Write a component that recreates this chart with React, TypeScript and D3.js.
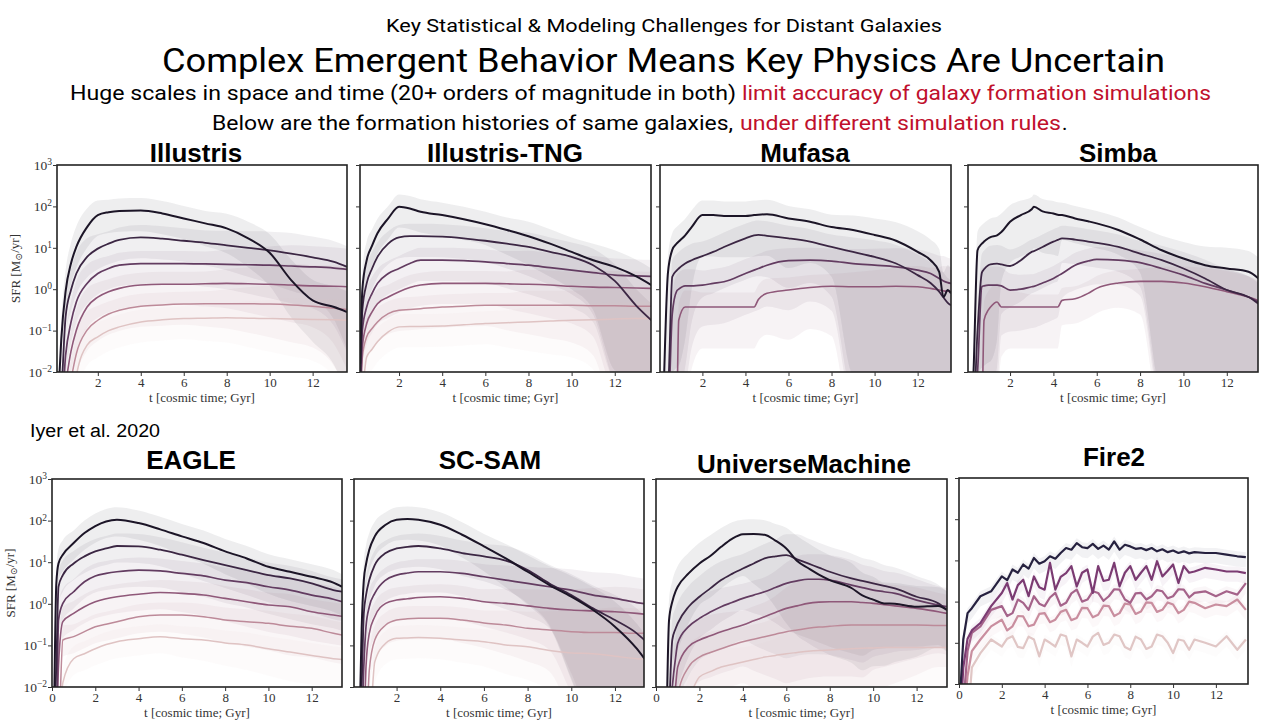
import React, { useRef, useEffect } from 'react';
import * as d3 from 'd3';

// All SFR values are log10(SFR / [Msun/yr]).
// -3 means "still below the bottom of the axis" (line has not started yet).

const illustrisTime = [0.2, 0.3, 0.5, 0.75, 1, 1.5, 2, 2.5, 3, 4, 5, 6, 7, 8, 9, 10, 11, 12, 13, 13.6];
const illustrisLogSfr = [
  [-2.2, -1.2, -0.05, 0.62, 1.02, 1.5, 1.79, 1.86, 1.89, 1.9, 1.83, 1.71, 1.59, 1.47, 1.23, 0.88, 0.22, -0.27, -0.43, -0.55],
  [-3, -2.5, -0.67, -0.02, 0.38, 0.78, 0.98, 1.1, 1.19, 1.25, 1.22, 1.17, 1.12, 1.06, 1.0, 0.94, 0.86, 0.77, 0.66, 0.54],
  [-3, -3, -1.6, -0.8, -0.31, 0.14, 0.38, 0.5, 0.58, 0.62, 0.62, 0.62, 0.61, 0.6, 0.59, 0.58, 0.56, 0.54, 0.51, 0.48],
  [-3, -3, -2.3, -1.5, -0.99, -0.43, -0.19, -0.06, 0.02, 0.1, 0.12, 0.12, 0.13, 0.14, 0.13, 0.12, 0.1, 0.08, 0.07, 0.06],
  [-3, -3, -3, -2.2, -1.56, -0.99, -0.75, -0.6, -0.51, -0.41, -0.38, -0.36, -0.35, -0.35, -0.35, -0.36, -0.38, -0.41, -0.46, -0.49],
  [-3, -3, -3, -3, -2.1, -1.35, -1.15, -1.0, -0.91, -0.79, -0.74, -0.71, -0.7, -0.69, -0.7, -0.71, -0.72, -0.73, -0.74, -0.75],
];
const illustrisUp = [0.5, 0.5, 0.5, 0.5, 0.5, 0.45, 0.35, 0.3, 0.3, 0.3, 0.3, 0.3, 0.3, 0.35, 0.4, 0.45, 0.5, 0.5, 0.5, 0.5];
const illustrisDown = [0.5, 0.5, 0.5, 0.5, 0.5, 0.5, 0.5, 0.5, 0.5, 0.5, 0.5, 0.5, 0.55, 0.6, 0.7, 0.8, 0.9, 1.0, 1.4, 2.0];

const tngTime = [0.2, 0.3, 0.5, 0.75, 1, 1.5, 2, 2.5, 3, 4, 5, 6, 7, 8, 9, 10, 11, 12, 13, 13.7];
const tngLogSfr = [
  [-1.8, 0.0, 0.7, 1.05, 1.35, 1.71, 1.99, 1.95, 1.87, 1.79, 1.69, 1.57, 1.43, 1.28, 1.1, 0.9, 0.7, 0.54, 0.31, 0.1],
  [-2.5, -0.5, 0.14, 0.5, 0.78, 1.1, 1.25, 1.28, 1.28, 1.27, 1.23, 1.17, 1.1, 1.02, 0.9, 0.78, 0.58, 0.2, -0.4, -0.75],
  [-3, -0.99, -0.43, -0.1, 0.14, 0.38, 0.5, 0.62, 0.7, 0.7, 0.69, 0.66, 0.62, 0.58, 0.52, 0.46, 0.4, 0.34, 0.32, 0.31],
  [-3, -1.4, -0.83, -0.55, -0.35, -0.19, -0.06, 0.04, 0.1, 0.14, 0.14, 0.14, 0.13, 0.12, 0.1, 0.07, 0.05, 0.04, 0.03, 0.02],
  [-3, -1.64, -1.15, -0.95, -0.79, -0.59, -0.51, -0.49, -0.47, -0.43, -0.41, -0.39, -0.39, -0.39, -0.39, -0.39, -0.4, -0.4, -0.41, -0.41],
  [-3, -2.5, -1.64, -1.45, -1.27, -1.03, -0.91, -0.9, -0.9, -0.89, -0.86, -0.83, -0.81, -0.79, -0.77, -0.75, -0.74, -0.72, -0.71, -0.71],
];
const tngUp = [0.5, 0.5, 0.45, 0.4, 0.35, 0.3, 0.3, 0.3, 0.3, 0.3, 0.3, 0.3, 0.3, 0.35, 0.35, 0.35, 0.4, 0.4, 0.4, 0.4];
const tngDown = [0.5, 0.5, 0.5, 0.5, 0.5, 0.5, 0.5, 0.5, 0.5, 0.5, 0.5, 0.5, 0.6, 0.7, 0.8, 0.9, 1.2, 2.5, 2.5, 2.5];

const mufasaTime = [0.2, 0.4, 0.6, 0.8, 0.9, 1.2, 1.5, 2, 2.5, 3, 4, 4.4, 4.6, 5, 6, 7, 8, 9, 10, 11, 12, 12.6, 13, 13.2, 13.4, 13.55];
const mufasaLogSfr = [
  [-2.5, 0.4, 0.95, 1.1, 1.15, 1.3, 1.5, 1.79, 1.79, 1.77, 1.77, 1.79, 1.8, 1.81, 1.71, 1.63, 1.5, 1.43, 1.31, 1.17, 0.9, 0.7, 0.42, -0.19, -0.02, -0.1],
  [-3, -2.5, 0.3, 0.45, 0.5, 0.62, 0.7, 0.8, 0.9, 1.02, 1.23, 1.3, 1.31, 1.29, 1.23, 1.15, 1.02, 0.9, 0.78, 0.62, 0.34, 0.15, -0.06, -0.2, -0.33, -0.39],
  [-3, -3, -0.6, -0.05, 0.0, 0.08, 0.08, 0.1, 0.14, 0.18, 0.38, 0.46, 0.5, 0.58, 0.69, 0.7, 0.68, 0.62, 0.58, 0.54, 0.46, 0.38, 0.26, 0.2, 0.16, 0.14],
  [-3, -3, -3, -3, -0.75, -0.43, -0.43, -0.43, -0.43, -0.43, -0.43, -0.43, -0.25, -0.1, -0.02, 0.04, 0.07, 0.06, 0.06, 0.07, 0.06, 0.02, -0.02, -0.04, -0.05, -0.06],
];
const mufasaUp = [0.4, 0.4, 0.4, 0.4, 0.4, 0.4, 0.4, 0.35, 0.35, 0.35, 0.35, 0.35, 0.35, 0.35, 0.3, 0.3, 0.3, 0.35, 0.4, 0.45, 0.5, 0.5, 0.55, 0.6, 0.6, 0.6];
const mufasaDown = [3, 3, 3, 3, 3, 2.5, 1.5, 1.0, 1.0, 1.0, 1.0, 1.0, 1.0, 1.0, 1.2, 1.0, 1.2, 3.5, 3.5, 3.5, 3.5, 3.5, 3.5, 3.5, 3.5, 3.5];

const simbaTime = [0.2, 0.3, 0.5, 0.7, 0.8, 1, 1.1, 1.4, 1.6, 2, 2.5, 3, 3.1, 3.5, 4, 4.2, 4.4, 5, 5.6, 6, 7, 8, 9, 10, 11, 12, 13, 13.46];
const simbaLogSfr = [
  [-3, -2.2, 0.94, 1.1, 1.15, 1.23, 1.26, 1.3, 1.38, 1.63, 1.79, 1.93, 1.99, 1.88, 1.83, 1.8, 1.79, 1.71, 1.64, 1.59, 1.43, 1.2, 0.94, 0.74, 0.58, 0.5, 0.42, 0.26],
  [-3, -3, -1.0, 0.4, 0.48, 0.58, 0.6, 0.62, 0.6, 0.56, 0.7, 0.9, 0.92, 1.02, 1.15, 1.19, 1.23, 1.2, 1.15, 1.12, 1.02, 0.86, 0.7, 0.5, 0.26, -0.02, -0.19, -0.35],
  [-3, -3, -2, 0.06, 0.08, 0.1, 0.1, 0.1, 0.08, -0.02, 0.0, 0.06, 0.07, 0.15, 0.26, 0.32, 0.38, 0.58, 0.68, 0.72, 0.7, 0.64, 0.5, 0.34, 0.14, -0.02, -0.19, -0.31],
  [-3, -3, -3, -3, -0.75, -0.5, -0.43, -0.31, -0.43, -0.43, -0.43, -0.43, -0.43, -0.43, -0.43, -0.43, -0.27, -0.23, -0.1, 0.02, 0.15, 0.19, 0.19, 0.15, 0.06, -0.06, -0.19, -0.27],
];
const simbaUp = [0.45, 0.45, 0.45, 0.45, 0.45, 0.45, 0.45, 0.45, 0.45, 0.4, 0.35, 0.3, 0.3, 0.3, 0.3, 0.3, 0.3, 0.3, 0.3, 0.3, 0.3, 0.3, 0.35, 0.4, 0.45, 0.5, 0.5, 0.5];
const simbaDown = [3, 3, 3, 3, 3, 3, 3, 2.5, 1.2, 1.0, 1.0, 1.0, 1.0, 1.0, 1.0, 1.0, 0.6, 0.6, 0.6, 0.6, 0.6, 0.8, 3.5, 3.5, 3.5, 3.5, 3.5, 3.5];

const eagleTime = [0.1, 0.2, 0.3, 0.5, 1, 1.5, 2, 2.5, 3, 4, 5, 6, 7, 8, 9, 10, 11, 12, 13, 13.4];
const eagleLogSfr = [
  [-2.5, 0.49, 0.97, 1.18, 1.46, 1.7, 1.87, 1.98, 2.02, 1.94, 1.79, 1.62, 1.46, 1.26, 1.09, 0.89, 0.77, 0.65, 0.51, 0.41],
  [-3, -1.5, 0.41, 0.69, 0.97, 1.14, 1.26, 1.33, 1.39, 1.38, 1.3, 1.18, 1.05, 0.93, 0.81, 0.69, 0.61, 0.49, 0.33, 0.29],
  [-3, -3, -0.39, 0.01, 0.29, 0.53, 0.67, 0.73, 0.77, 0.81, 0.79, 0.73, 0.67, 0.57, 0.51, 0.41, 0.33, 0.21, 0.11, 0.05],
  [-3, -3, -1.5, -0.43, -0.23, -0.07, 0.05, 0.12, 0.17, 0.23, 0.27, 0.25, 0.21, 0.13, 0.05, -0.03, -0.07, -0.19, -0.27, -0.3],
  [-3, -3, -3, -0.87, -0.79, -0.67, -0.55, -0.49, -0.43, -0.31, -0.27, -0.27, -0.31, -0.39, -0.43, -0.47, -0.54, -0.59, -0.71, -0.75],
  [-3, -3, -3, -1.9, -1.32, -1.2, -1.08, -0.98, -0.91, -0.84, -0.79, -0.84, -0.87, -0.94, -0.99, -1.08, -1.16, -1.24, -1.32, -1.34],
];
const eagleUp = [0.35, 0.35, 0.35, 0.35, 0.3, 0.3, 0.3, 0.3, 0.3, 0.3, 0.3, 0.3, 0.3, 0.3, 0.3, 0.3, 0.3, 0.3, 0.3, 0.3];
const eagleDown = [0.4, 0.4, 0.4, 0.4, 0.4, 0.4, 0.4, 0.4, 0.4, 0.4, 0.4, 0.45, 0.5, 0.55, 0.6, 0.65, 0.7, 0.7, 0.7, 0.7];

const scsamTime = [0.3, 0.4, 0.5, 0.6, 0.75, 1, 1.5, 2, 2.5, 3, 4, 5, 6, 7, 8, 9, 10, 11, 12, 13, 13.35];
const scsamLogSfr = [
  [-3, -0.6, 0.57, 0.95, 1.3, 1.62, 1.9, 2.02, 2.04, 2.02, 1.9, 1.66, 1.38, 1.09, 0.77, 0.45, 0.17, -0.15, -0.55, -1.08, -1.32],
  [-3, -2, -0.23, 0.2, 0.57, 0.93, 1.22, 1.33, 1.37, 1.39, 1.33, 1.22, 1.14, 1.04, 0.81, 0.49, 0.21, -0.11, -0.39, -0.71, -0.87],
  [-3, -3, -1.5, -0.55, -0.07, 0.25, 0.57, 0.69, 0.74, 0.77, 0.77, 0.73, 0.65, 0.57, 0.49, 0.41, 0.33, 0.21, 0.13, 0.03, 0.0],
  [-3, -3, -3, -1.5, -0.71, -0.31, 0.01, 0.09, 0.12, 0.15, 0.17, 0.13, 0.05, 0.01, -0.05, -0.11, -0.15, -0.17, -0.19, -0.23, -0.25],
  [-3, -3, -3, -3, -1.6, -0.87, -0.51, -0.39, -0.36, -0.35, -0.35, -0.39, -0.46, -0.51, -0.59, -0.63, -0.67, -0.69, -0.69, -0.71, -0.71],
  [-3, -3, -3, -3, -3, -1.4, -0.95, -0.83, -0.82, -0.81, -0.83, -0.87, -0.91, -0.99, -1.03, -1.12, -1.18, -1.2, -1.26, -1.32, -1.33],
];
const scsamUp = [0.45, 0.45, 0.45, 0.45, 0.4, 0.35, 0.3, 0.3, 0.3, 0.3, 0.3, 0.3, 0.3, 0.35, 0.4, 0.45, 0.5, 0.55, 0.6, 0.6, 0.6];
const scsamDown = [0.5, 0.5, 0.5, 0.5, 0.5, 0.5, 0.5, 0.5, 0.5, 0.5, 0.5, 0.55, 0.6, 0.7, 0.8, 1.0, 2.0, 3.0, 3.0, 3.0, 3.0];

const umTime = [0.5, 0.6, 0.75, 0.9, 1, 1.5, 2, 2.5, 3, 3.5, 4, 4.5, 5, 5.5, 6, 6.5, 7, 7.5, 8, 9, 9.5, 10, 10.5, 11, 12, 13, 13.4];
const umLogSfr = [
  [-2.5, -0.4, 0.05, 0.3, 0.41, 0.73, 0.97, 1.15, 1.37, 1.56, 1.67, 1.68, 1.66, 1.52, 1.33, 1.03, 0.86, 0.7, 0.57, 0.38, 0.2, 0.1, 0.01, 0.0, -0.07, -0.05, -0.15],
  [-3, -2.5, -0.87, -0.6, -0.47, -0.07, 0.17, 0.37, 0.57, 0.72, 0.85, 0.97, 1.09, 1.14, 1.17, 1.07, 0.97, 0.87, 0.77, 0.61, 0.55, 0.49, 0.43, 0.37, 0.17, 0.01, -0.15],
  [-3, -3, -2, -1.3, -0.95, -0.55, -0.35, -0.2, -0.07, 0.03, 0.13, 0.21, 0.29, 0.39, 0.49, 0.55, 0.59, 0.59, 0.57, 0.45, 0.39, 0.33, 0.29, 0.25, 0.09, -0.03, -0.07],
  [-3, -3, -3, -2, -1.52, -1.03, -0.87, -0.77, -0.67, -0.59, -0.51, -0.41, -0.31, -0.21, -0.11, -0.05, 0.01, 0.04, 0.05, 0.05, 0.03, 0.01, -0.02, -0.05, -0.11, -0.19, -0.23],
  [-3, -3, -3, -3, -2.2, -1.52, -1.28, -1.17, -1.08, -0.99, -0.91, -0.85, -0.79, -0.73, -0.67, -0.63, -0.59, -0.56, -0.54, -0.51, -0.51, -0.51, -0.51, -0.51, -0.51, -0.52, -0.52],
  [-3, -3, -3, -3, -3, -2.3, -1.76, -1.63, -1.52, -1.46, -1.4, -1.34, -1.28, -1.24, -1.2, -1.17, -1.14, -1.12, -1.11, -1.08, -1.07, -1.06, -1.05, -1.05, -1.05, -1.05, -1.05],
];
const umUp = [0.5, 0.5, 0.5, 0.5, 0.5, 0.5, 0.5, 0.5, 0.45, 0.4, 0.35, 0.35, 0.35, 0.4, 0.5, 0.6, 0.6, 0.6, 0.6, 0.6, 0.55, 0.55, 0.5, 0.5, 0.5, 0.45, 0.45];
const umDown = [1.5, 1.5, 1.5, 1.5, 1.5, 1.2, 1.0, 1.0, 1.0, 1.0, 1.0, 1.2, 1.4, 1.6, 1.8, 1.8, 1.8, 1.8, 1.8, 1.8, 1.8, 1.6, 1.5, 1.4, 1.2, 1.0, 1.0];

const fire2Time = [0.05, 0.2, 0.4, 0.6, 1, 1.5, 2, 2.25, 2.5, 2.75, 3, 3.25, 3.5, 3.75, 4, 4.25, 4.5, 4.75, 5, 5.25, 5.5, 5.75, 6, 6.25, 6.5, 6.75, 7, 7.25, 7.5, 7.75, 8, 8.25, 8.5, 8.75, 9, 9.25, 9.5, 9.75, 10, 10.25, 10.5, 10.75, 11, 11.5, 12, 12.5, 13, 13.4];
const fire2LogSfr = [
  [-2.3, -0.92, -0.28, -0.16, 0.13, 0.25, 0.61, 0.52, 0.78, 0.7, 0.9, 0.8, 1.06, 0.92, 0.98, 1.1, 1.04, 1.18, 1.3, 1.26, 1.42, 1.32, 1.3, 1.4, 1.28, 1.36, 1.26, 1.46, 1.26, 1.38, 1.34, 1.28, 1.3, 1.25, 1.3, 1.22, 1.27, 1.2, 1.24, 1.18, 1.22, 1.17, 1.2, 1.18, 1.18, 1.14, 1.1, 1.08],
  [-3, -1.6, -0.9, -0.7, -0.52, -0.11, 0.21, 0.45, 0.05, 0.4, 0.53, 0.13, 0.61, 0.35, 0.29, 0.94, 0.29, 0.6, 0.69, 0.86, 0.37, 0.7, 0.78, 0.21, 0.86, 0.5, 0.53, 0.94, 0.37, 0.7, 0.86, 0.53, 0.7, 0.86, 0.53, 0.98, 0.61, 0.75, 0.9, 0.45, 0.86, 0.7, 0.73, 0.82, 0.78, 0.73, 0.73, 0.69],
  [-3, -2.5, -1.2, -0.76, -0.6, -0.2, -0.11, -0.35, -0.28, 0.05, -0.03, -0.2, 0.13, -0.05, -0.11, 0.1, 0.21, -0.1, -0.03, 0.2, 0.29, 0.0, 0.05, 0.25, 0.21, 0.02, 0.13, 0.3, 0.29, 0.05, -0.03, 0.2, 0.21, 0.05, 0.13, 0.28, 0.25, 0.08, 0.13, 0.3, 0.29, 0.1, 0.21, 0.25, 0.13, 0.25, 0.17, 0.45],
  [-3, -3, -1.8, -1.2, -0.92, -0.6, -0.44, -0.7, -0.6, -0.35, -0.36, -0.6, -0.56, -0.3, -0.28, -0.5, -0.44, -0.25, -0.2, -0.45, -0.4, -0.15, -0.16, -0.38, -0.32, -0.1, -0.11, -0.35, -0.28, -0.05, -0.07, -0.3, -0.24, -0.02, -0.03, -0.25, -0.2, -0.02, -0.07, -0.28, -0.2, 0.0, -0.03, -0.16, -0.07, -0.11, 0.05, -0.2],
  [-3, -3, -3, -1.6, -1.25, -0.92, -1.09, -0.9, -0.84, -1.1, -1.13, -0.85, -0.92, -1.33, -0.92, -1.0, -1.09, -0.8, -0.84, -1.33, -0.92, -1.0, -1.09, -0.85, -0.76, -1.05, -1.0, -0.8, -0.84, -1.1, -1.17, -0.85, -0.92, -1.15, -1.09, -0.8, -0.84, -1.0, -1.25, -0.92, -0.95, -1.17, -0.92, -1.0, -1.09, -0.84, -1.17, -0.92],
];
const fire2Up = 0.12;
const fire2Down = 0.25;

const purplePalette = ['#1c1527', '#3b2643', '#633c61', '#8f5879', '#bd8a99', '#dfc3c3'];
const firePalette = ['#26213f', '#7b3b72', '#a5638a', '#c98e9f', '#e0c6c5'];

const SERIF = "'Liberation Serif', 'DejaVu Serif', serif";
const SANS = "'Liberation Sans', Arial, sans-serif";
const SLIDE = "Roboto, 'Open Sans', sans-serif";

const panels = [
  { title: 'Illustris', time: illustrisTime, series: illustrisLogSfr, up: illustrisUp, down: illustrisDown,
    x0: 57, x1: 347, y0: 165, y1: 372, tMin: 0.1, tMax: 13.6, titleX: 196, titleY: 162, yLabels: true },
  { title: 'Illustris-TNG', time: tngTime, series: tngLogSfr, up: tngUp, down: tngDown,
    x0: 360, x1: 651, y0: 165, y1: 372, tMin: 0.19, tMax: 13.68, titleX: 505, titleY: 162 },
  { title: 'Mufasa', time: mufasaTime, series: mufasaLogSfr, up: mufasaUp, down: mufasaDown,
    x0: 660, x1: 951, y0: 165, y1: 372, tMin: 0.03, tMax: 13.55, titleX: 805, titleY: 162 },
  { title: 'Simba', time: simbaTime, series: simbaLogSfr, up: simbaUp, down: simbaDown,
    x0: 968, x1: 1258, y0: 165, y1: 372, tMin: 0.06, tMax: 13.44, titleX: 1118, titleY: 162 },
  { title: 'EAGLE', time: eagleTime, series: eagleLogSfr, up: eagleUp, down: eagleDown,
    x0: 52, x1: 342, y0: 479, y1: 687, tMin: 0, tMax: 13.4, titleX: 191, titleY: 469, yLabels: true },
  { title: 'SC-SAM', time: scsamTime, series: scsamLogSfr, up: scsamUp, down: scsamDown,
    x0: 354, x1: 644, y0: 479, y1: 687, tMin: 0.05, tMax: 13.33, titleX: 490, titleY: 469 },
  { title: 'UniverseMachine', time: umTime, series: umLogSfr, up: umUp, down: umDown,
    x0: 656, x1: 947, y0: 479, y1: 687, tMin: 0, tMax: 13.4, titleX: 804, titleY: 473 },
  { title: 'Fire2', time: fire2Time, series: fire2LogSfr, up: fire2Up, down: fire2Down,
    x0: 959, x1: 1248, y0: 478, y1: 684, tMin: 0, tMax: 13.5, titleX: 1114, titleY: 466, fire: true },
];

const spreadAt = (s: number | number[], i: number) => (Array.isArray(s) ? s[i] : s);

const drawPanel = (root: any, p: any, idx: number) => {
  const g = root.append('g').attr('class', 'panel');
  const x = d3.scaleLinear().domain([p.tMin, p.tMax]).range([p.x0, p.x1]);
  const y = d3.scaleLog().domain([1e-2, 1e3]).range([p.y1, p.y0]);
  const colors = p.fire ? firePalette : purplePalette;
  const curve = p.fire ? d3.curveLinear : d3.curveMonotoneX;

  const clipId = `clip-${idx}`;
  g.append('clipPath').attr('id', clipId)
    .append('rect')
    .attr('x', p.x0).attr('y', p.y0)
    .attr('width', p.x1 - p.x0).attr('height', p.y1 - p.y0);
  const plot = g.append('g').attr('clip-path', `url(#${clipId})`);

  // shaded spread around each history
  p.series.forEach((vals: number[], si: number) => {
    const pts = p.time.map((t: number, i: number) => ({
      t,
      lo: vals[i] - spreadAt(p.down, i),
      hi: vals[i] + spreadAt(p.up, i),
    }));
    const area = d3.area<any>()
      .x((d) => x(d.t))
      .y0((d) => y(Math.pow(10, d.lo)))
      .y1((d) => y(Math.pow(10, d.hi)))
      .curve(curve);
    plot.append('path')
      .attr('d', area(pts))
      .attr('fill', colors[si])
      .attr('fill-opacity', p.fire ? 0.06 : 0.075);
  });

  // median lines, lightest first so the darkest sits on top
  for (let si = p.series.length - 1; si >= 0; si--) {
    const vals = p.series[si];
    const line = d3.line<number>()
      .x((_, i) => x(p.time[i]))
      .y((v) => y(Math.pow(10, v)))
      .curve(curve);
    plot.append('path')
      .attr('d', line(vals))
      .attr('fill', 'none')
      .attr('stroke', colors[si])
      .attr('stroke-width', p.fire ? 2.2 : [2, 1.8, 1.7, 1.6, 1.5, 1.5][si])
      .attr('stroke-linejoin', 'round');
  }

  // frame
  g.append('rect')
    .attr('x', p.x0).attr('y', p.y0)
    .attr('width', p.x1 - p.x0).attr('height', p.y1 - p.y0)
    .attr('fill', 'none')
    .attr('stroke', '#222')
    .attr('stroke-width', 1.6);

  // x axis
  const xTicks = [0, 2, 4, 6, 8, 10, 12].filter((v) => v >= p.tMin && v <= p.tMax);
  g.append('g')
    .attr('transform', `translate(0,${p.y1})`)
    .call(d3.axisBottom(x).tickValues(xTicks).tickSize(4).tickPadding(2).tickFormat(d3.format('d')))
    .call((a: any) => a.select('.domain').remove())
    .call((a: any) => a.selectAll('line').attr('stroke', '#333'))
    .call((a: any) => a.selectAll('text')
      .attr('font-family', SERIF).attr('font-size', 13).attr('fill', '#333'));

  g.append('text')
    .attr('x', (p.x0 + p.x1) / 2)
    .attr('y', p.y1 + 30)
    .attr('text-anchor', 'middle')
    .attr('font-family', SERIF)
    .attr('font-size', 13)
    .attr('fill', '#333')
    .text('t [cosmic time; Gyr]');

  // y axis (log decades)
  const ya = g.append('g')
    .attr('transform', `translate(${p.x0},0)`)
    .call(d3.axisLeft(y).tickValues([1e-2, 1e-1, 1, 10, 100, 1000]).tickSize(4).tickPadding(1).tickFormat(() => ''))
    .call((a: any) => a.select('.domain').remove())
    .call((a: any) => a.selectAll('line').attr('stroke', '#333'));

  if (p.yLabels) {
    ya.selectAll('.tick text').each(function (this: any, d: any) {
      const e = Math.round(Math.log10(d));
      const t = d3.select(this)
        .attr('font-family', SERIF).attr('font-size', 13.5).attr('fill', '#333');
      t.append('tspan').text('10');
      t.append('tspan').attr('dy', '-0.5em').attr('font-size', 9.5)
        .text(e < 0 ? `\u2212${-e}` : `${e}`);
    });
    const cy = (p.y0 + p.y1) / 2;
    const lx = p.x0 - 37;
    const lab = g.append('text')
      .attr('transform', `translate(${lx},${cy}) rotate(-90)`)
      .attr('text-anchor', 'middle')
      .attr('font-family', SERIF)
      .attr('font-size', 13)
      .attr('fill', '#333');
    lab.append('tspan').text('SFR [M');
    lab.append('tspan').attr('font-size', 9.5).attr('dy', '0.25em').text('\u2299');
    lab.append('tspan').attr('dy', '-0.25em').text('/yr]');
  }

  g.append('text')
    .attr('x', p.titleX)
    .attr('y', p.titleY)
    .attr('text-anchor', 'middle')
    .attr('font-family', SANS)
    .attr('font-weight', 'bold')
    .attr('font-size', 26)
    .attr('fill', '#000')
    .text(p.title);
};

const App = () => {
  const svgRef = useRef<SVGSVGElement>(null);

  useEffect(() => {
    const root = d3.select(svgRef.current);
    root.selectAll('g.panel').remove();
    panels.forEach((p, i) => drawPanel(root, p, i));
  }, []);

  const red = '#c0102c';

  return (
    <svg
      ref={svgRef}
      width={1280}
      height={720}
      style={{ position: 'absolute', left: 0, top: 0, background: '#fff' }}
    >
      <rect x={0} y={0} width={1280} height={720} fill="#fff" />
      <text x={386} y={31.5} fontFamily={SLIDE} fontSize={19} textLength={556} lengthAdjust="spacingAndGlyphs">
        Key Statistical &amp; Modeling Challenges for Distant Galaxies
      </text>
      <text x={162} y={72} fontFamily={SLIDE} fontSize={34} textLength={1003} lengthAdjust="spacingAndGlyphs">
        Complex Emergent Behavior Means Key Physics Are Uncertain
      </text>
      <text x={70} y={100} fontFamily={SLIDE} fontSize={20.5} textLength={666} lengthAdjust="spacingAndGlyphs">
        Huge scales in space and time (20+ orders of magnitude in both)
      </text>
      <text x={742} y={100} fontFamily={SLIDE} fontSize={20.5} fill={red} textLength={469} lengthAdjust="spacingAndGlyphs">
        limit accuracy of galaxy formation simulations
      </text>
      <text x={212} y={130} fontFamily={SLIDE} fontSize={20.5} textLength={521} lengthAdjust="spacingAndGlyphs">
        Below are the formation histories of same galaxies,
      </text>
      <text x={740} y={130} fontFamily={SLIDE} fontSize={20.5} fill={red} textLength={321} lengthAdjust="spacingAndGlyphs">
        under different simulation rules
      </text>
      <text x={1062} y={130} fontFamily={SLIDE} fontSize={20.5}>.</text>
      <text x={30} y={437} fontFamily={SANS} fontSize={18} textLength={130} lengthAdjust="spacingAndGlyphs">
        Iyer et al. 2020
      </text>
    </svg>
  );
};

export default App;
